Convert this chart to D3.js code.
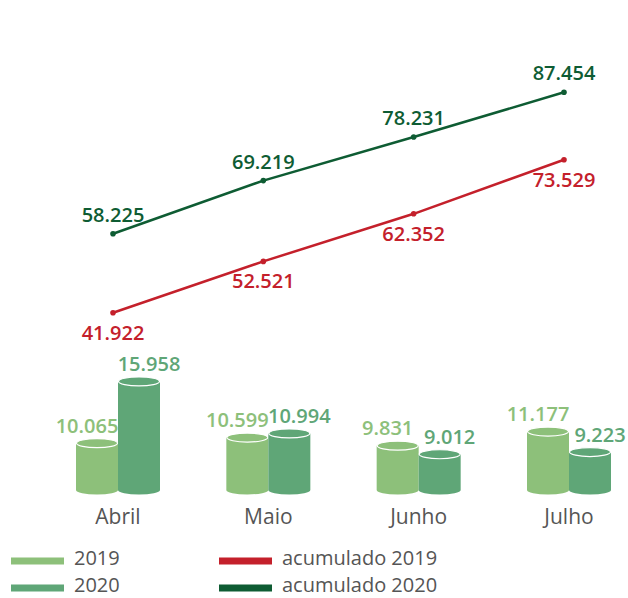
<!DOCTYPE html>
<html>
<head>
<meta charset="utf-8">
<script src="https://cdn.jsdelivr.net/npm/d3@7"></script>
<style>
  body { margin: 0; background: #fff; }
  svg { font-family: "Open Sans", sans-serif; }
</style>
</head>
<body>
<svg id="chart" width="628" height="598"></svg>
<script>
const months = ['Abril', 'Maio', 'Junho', 'Julho'];
const bars2019 = [10065, 10599, 9831, 11177];
const bars2020 = [15958, 10994, 9012, 9223];
const acum2019 = [41922, 52521, 62352, 73529];
const acum2020 = [58225, 69219, 78231, 87454];

const colors = {
    b2019: '#8dc07a',
    b2020: '#5fa677',
    a2019: '#c4202b',
    a2020: '#0e5c33'
};

const ptBR = d3.formatLocale({ decimal: ',', thousands: '.', grouping: [3], currency: ['R$', ''] });
const fmt = ptBR.format(',d');

const svg = d3.select('#chart');

const x = d3.scalePoint().domain(months).range([118, 569]);
const barW = 42;
const ry = 4.5;
const yBar = d3.scaleLinear().domain([5600, 16000]).range([490, 381]);
const yLine = d3.scaleLinear().domain([40000, 90000]).range([322, 80]);

// cylinders
function drawCylinders(values, color, side, labelShift) {
    const g = svg.append('g');
    values.forEach((v, i) => {
        const x0 = x(months[i]) + (side < 0 ? -barW : 0);
        const x1 = x0 + barW;
        const yt = yBar(v);
        const yb = yBar.range()[0];
        g.append('path')
            .attr('d', `M${x0},${yt} L${x0},${yb} A${barW / 2},${ry} 0 0 0 ${x1},${yb} L${x1},${yt} Z`)
            .attr('fill', color);
        g.append('ellipse')
            .attr('cx', x0 + barW / 2)
            .attr('cy', yt)
            .attr('rx', barW / 2 - 0.5)
            .attr('ry', ry)
            .attr('fill', color)
            .attr('stroke', '#fff')
            .attr('stroke-width', 1.2);
        g.append('text')
            .attr('x', x0 + barW / 2 + labelShift)
            .attr('y', yt - ry - 6)
            .attr('text-anchor', 'middle')
            .attr('fill', color)
            .style('font-size', '20px')
            .style('font-weight', 600)
            .text(fmt(v));
    });
}
drawCylinders(bars2019, colors.b2019, -1, -10);
drawCylinders(bars2020, colors.b2020, 1, 10);

// month labels
svg.append('g').selectAll('text')
    .data(months)
    .join('text')
    .attr('x', d => x(d))
    .attr('y', 524)
    .attr('text-anchor', 'middle')
    .attr('fill', '#555')
    .style('font-size', '21px')
    .text(d => d);

// accumulated lines
const lineX = d => x(d) - 5;
function drawLine(values, color, labelDy) {
    const pts = values.map((v, i) => [lineX(months[i]), yLine(v)]);
    svg.append('path')
        .attr('d', d3.line()(pts))
        .attr('fill', 'none')
        .attr('stroke', color)
        .attr('stroke-width', 2.5);
    svg.append('g').selectAll('circle')
        .data(pts)
        .join('circle')
        .attr('cx', d => d[0])
        .attr('cy', d => d[1])
        .attr('r', 2.8)
        .attr('fill', color);
    svg.append('g').selectAll('text')
        .data(values)
        .join('text')
        .attr('x', (d, i) => pts[i][0])
        .attr('y', (d, i) => pts[i][1] + labelDy)
        .attr('text-anchor', 'middle')
        .attr('fill', color)
        .style('font-size', '20px')
        .style('font-weight', 600)
        .text(d => fmt(d));
}
drawLine(acum2020, colors.a2020, -12);
drawLine(acum2019, colors.a2019, 27);

// legend
const legend = [
    { label: '2019', color: colors.b2019, x: 11, y: 561 },
    { label: '2020', color: colors.b2020, x: 11, y: 588 },
    { label: 'acumulado 2019', color: colors.a2019, x: 219, y: 561 },
    { label: 'acumulado 2020', color: colors.a2020, x: 219, y: 588 }
];
const lg = svg.append('g').selectAll('g').data(legend).join('g');
lg.append('rect')
    .attr('x', d => d.x)
    .attr('y', d => d.y - 3.5)
    .attr('width', 53)
    .attr('height', 7)
    .attr('fill', d => d.color);
lg.append('text')
    .attr('x', d => d.x + 63)
    .attr('y', d => d.y + 4)
    .attr('fill', '#555')
    .style('font-size', '20px')
    .text(d => d.label);
</script>
</body>
</html>
